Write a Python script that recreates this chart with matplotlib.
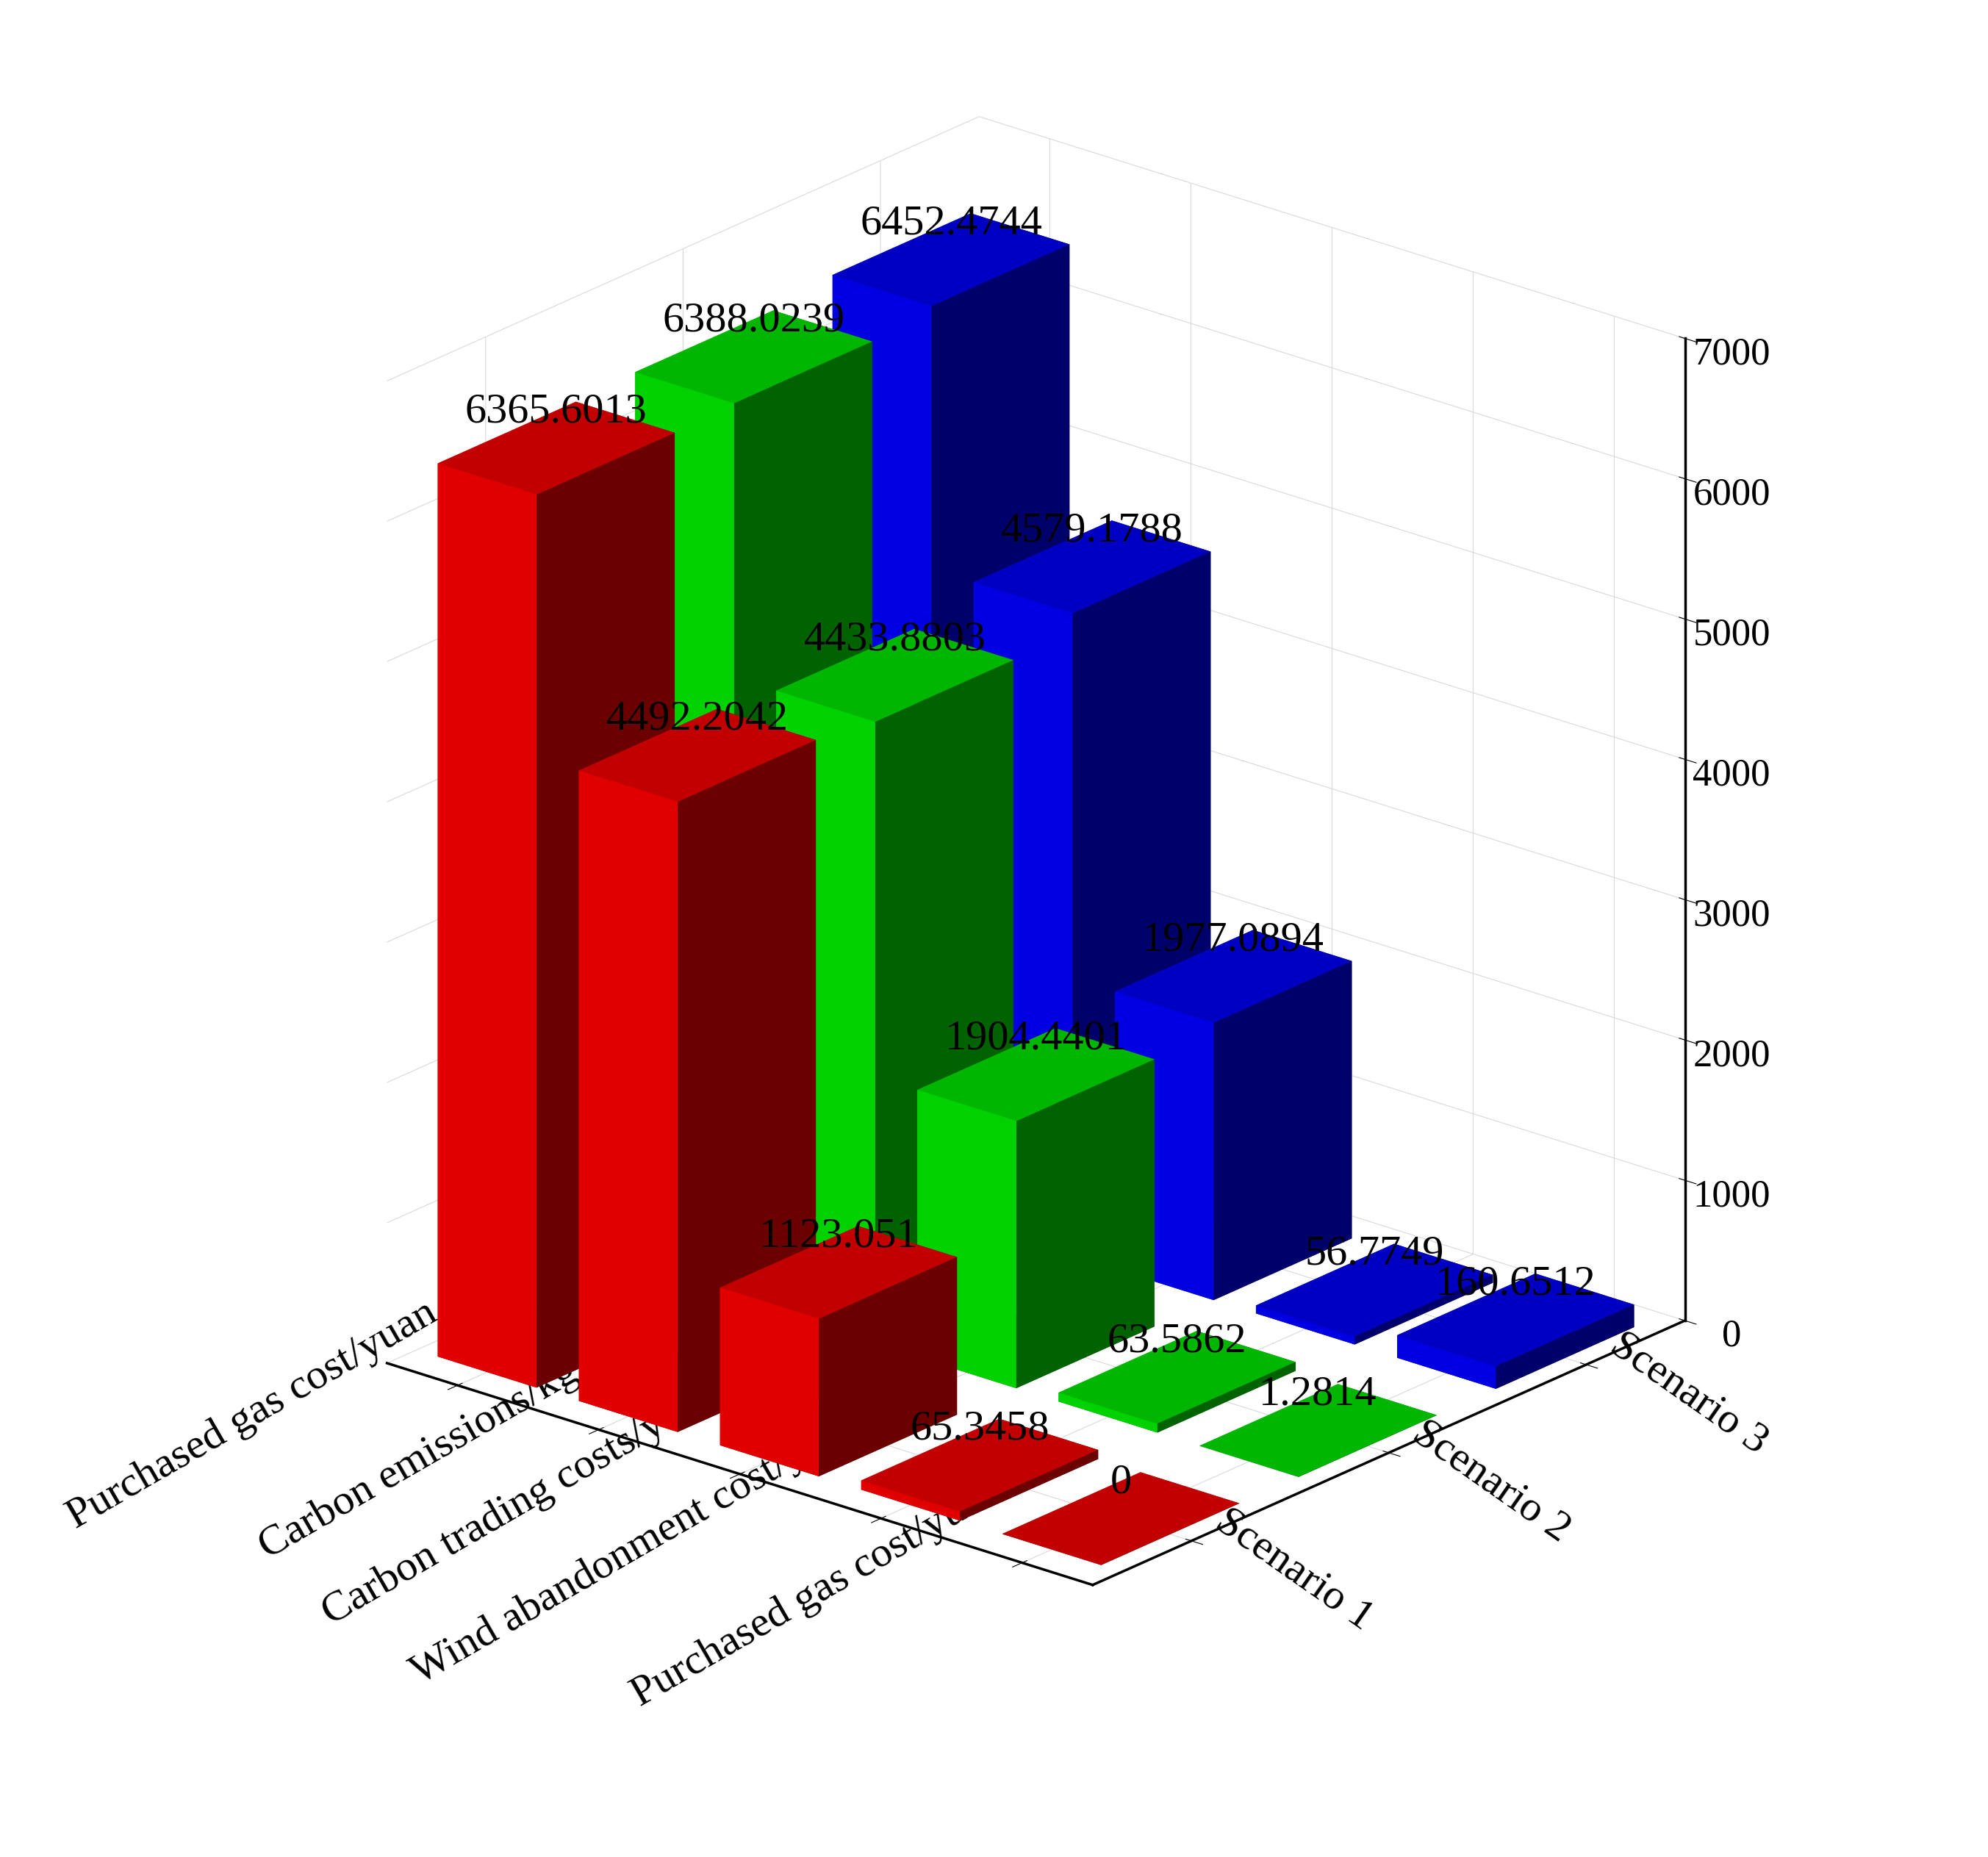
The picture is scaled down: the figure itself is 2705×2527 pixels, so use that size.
import matplotlib
matplotlib.use("Agg")
import matplotlib.pyplot as plt
import numpy as np

plt.rcParams['font.family'] = ['Liberation Serif', 'DejaVu Serif']

categories = ["Purchased gas cost/yuan", "Carbon emissions/kg", "Carbon trading costs/yuan",
              "Wind abandonment cost/yuan", "Purchased gas cost/yuan"]
scenarios = ["Scenario 1", "Scenario 2", "Scenario 3"]
scen1 = [6365.6013, 4492.2042, 1123.051, 65.3458, 0]
scen2 = [6388.0239, 4433.8803, 1904.4401, 63.5862, 1.2814]
scen3 = [6452.4744, 4579.1788, 1977.0894, 56.7749, 160.6512]
labels1 = ["6365.6013", "4492.2042", "1123.051", "65.3458", "0"]
labels2 = ["6388.0239", "4433.8803", "1904.4401", "63.5862", "1.2814"]
labels3 = ["6452.4744", "4579.1788", "1977.0894", "56.7749", "160.6512"]
colors = ["#ff0000", "#00ee00", "#0000ff"]
series = [(scen1, labels1), (scen2, labels2), (scen3, labels3)]

fig = plt.figure(figsize=(27.05, 25.27), dpi=100)
ax = fig.add_axes([0.1, 0.08, 0.82, 0.9], projection='3d', proj_type='ortho',
                  computed_zorder=False)
ax.view_init(elev=22, azim=-50)
ax.set_box_aspect((1.0, 1.0, 1.15))

w = 0.7
# back-to-front drawing order: low category index / high scenario index first
order = sorted([(i, j) for i in range(5) for j in range(3)], key=lambda p: (p[0] - p[1]))
z = 1
for i, j in order:
    h = max(series[j][0][i], 1.0)
    ax.bar3d(i - w / 2, j - w / 2, 0, w, w, h, color=colors[j], shade=True,
             edgecolor='none', zorder=z)
    z += 1
for i, j in order:
    h = max(series[j][0][i], 1.0)
    ax.text(i, j, h + 120, series[j][1][i], fontsize=42, ha='center', va='bottom',
            zorder=100)

ax.set_xlim(-0.5, 4.5)
ax.set_ylim(-0.5, 2.5)
ax.set_zlim(0, 7000)
ax.set_xticks(range(5))
ax.set_xticklabels(categories, fontsize=42, rotation=30, ha='right', va='center')
ax.set_yticks(range(3))
ax.set_yticklabels(scenarios, fontsize=42, rotation=-35, ha='left', va='center')
ax.set_zticks(range(0, 7001, 1000))
ax.tick_params(axis='z', labelsize=38, pad=22)
ax.tick_params(axis='x', pad=12)
ax.tick_params(axis='y', pad=12)
for a in (ax.xaxis, ax.yaxis, ax.zaxis):
    a.set_pane_color((1, 1, 1, 0))
    a._axinfo['grid']['color'] = (0.85, 0.85, 0.85, 1)
    a.line.set_linewidth(2.5)

fig.savefig("out.png", dpi=100)
